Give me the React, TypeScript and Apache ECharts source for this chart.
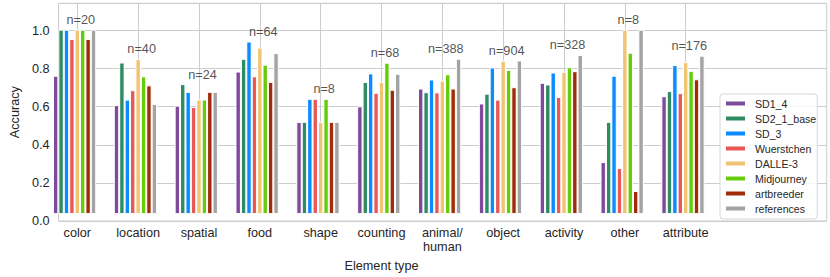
import React, { useEffect, useRef } from "react";
import * as echarts from "echarts";

const categories = ["color", "location", "spatial", "food", "shape", "counting", "animal/\nhuman", "object", "activity", "other", "attribute"];
const counts = [20, 40, 24, 64, 8, 68, 388, 904, 328, 8, 176];

const modelNames = ["SD1_4", "SD2_1_base", "SD_3", "Wuerstchen", "DALLE-3", "Midjourney", "artbreeder", "references"];
const modelColors = ["#7D4A9C", "#2E8B62", "#0A8BFF", "#E85858", "#F0C472", "#66CC0A", "#A02C0A", "#A3A3A3"];

const sd14 = [0.75, 0.591, 0.588, 0.773, 0.5, 0.584, 0.681, 0.6, 0.712, 0.282, 0.639];
const sd21base = [1.0, 0.822, 0.705, 0.842, 0.5, 0.717, 0.661, 0.653, 0.703, 0.5, 0.667];
const sd3 = [1.0, 0.621, 0.663, 0.936, 0.625, 0.763, 0.73, 0.795, 0.768, 0.75, 0.808];
const wuerstchen = [0.95, 0.672, 0.581, 0.747, 0.625, 0.658, 0.66, 0.621, 0.635, 0.25, 0.656];
const dalle3 = [1.0, 0.841, 0.621, 0.903, 0.5, 0.717, 0.724, 0.831, 0.772, 1.0, 0.824];
const midjourney = [1.0, 0.747, 0.621, 0.81, 0.625, 0.821, 0.758, 0.782, 0.796, 0.875, 0.777];
const artbreeder = [0.95, 0.698, 0.663, 0.717, 0.5, 0.674, 0.681, 0.688, 0.775, 0.125, 0.731];
const references = [1.0, 0.597, 0.663, 0.873, 0.5, 0.761, 0.842, 0.833, 0.863, 1.0, 0.859];

const seriesValues = [sd14, sd21base, sd3, wuerstchen, dalle3, midjourney, artbreeder, references];

const yTickValues = [0, 0.2, 0.4, 0.6, 0.8, 1.0];
const yMin = 0;
const yMax = 1.143;

const FONT = "Liberation Sans, Arial, Helvetica, sans-serif";
const TEXT = "#262626";
const GRID = "#cccccc";

export default function App() {
  const ref = useRef<HTMLDivElement>(null);

  useEffect(() => {
    document.body.style.margin = "0";
    if (!ref.current) return;
    const chart = echarts.init(ref.current, null, { renderer: "svg" });

    const barSeries: any[] = modelNames.map((name, i) => ({
      name,
      type: "bar",
      xAxisIndex: 0,
      yAxisIndex: 0,
      data: seriesValues[i],
      barGap: "0%",
      barCategoryGap: "20%",
      clip: false,
      itemStyle: { color: modelColors[i], borderColor: "#ffffff", borderWidth: 1 },
      z: 3,
    }));
    // ninth (empty) hue slot, as in the original grouped layout
    barSeries.push({
      name: "_slot",
      type: "bar",
      xAxisIndex: 0,
      yAxisIndex: 0,
      data: categories.map(() => "-"),
      barGap: "0%",
      barCategoryGap: "20%",
      clip: false,
      silent: true,
      itemStyle: { color: "transparent" },
    });

    const maxPerCategory = categories.map((_, c) => Math.max(...seriesValues.map((s) => s[c])));

    const option: any = {
      animation: false,
      textStyle: { fontFamily: FONT },
      legend: {
        data: modelNames,
        orient: "vertical",
        left: 720,
        top: 94,
        itemWidth: 21,
        itemHeight: 6,
        itemGap: 4,
        icon: "rect",
        padding: [4, 1, 5, 4],
        backgroundColor: "rgba(255,255,255,0.85)",
        borderColor: "#d6d6d6",
        borderWidth: 1,
        borderRadius: 3,
        selectedMode: false,
        textStyle: { fontFamily: FONT, fontSize: 10.6, color: TEXT, padding: [0, 0, 0, 4] },
      },
      grid: [
        { left: 77.3, right: 144.3, top: 3.3, bottom: 56, containLabel: false },
        { left: 47, right: 3.3, top: 3.3, bottom: 56, show: true, borderColor: GRID, borderWidth: 1, backgroundColor: "transparent", containLabel: false },
      ],
      xAxis: [
        {
          type: "category",
          gridIndex: 0,
          data: categories,
          boundaryGap: false,
          axisLine: { show: false },
          axisTick: { show: false },
          splitLine: { show: true, lineStyle: { color: GRID, width: 1 } },
          axisLabel: { fontFamily: FONT, fontSize: 12.7, color: TEXT, margin: 12, lineHeight: 14, interval: 0 },
          name: "Element type",
          nameLocation: "middle",
          nameGap: 38,
          nameTextStyle: { fontFamily: FONT, fontSize: 12.7, color: TEXT },
        },
        { type: "value", gridIndex: 1, show: false, min: 0, max: 1 },
      ],
      yAxis: [
        { type: "value", gridIndex: 0, min: yMin, max: yMax, show: false, splitLine: { show: false } },
        {
          type: "value",
          gridIndex: 1,
          min: yMin,
          max: yMax,
          interval: yTickValues[1] - yTickValues[0],
          axisLine: { show: false },
          axisTick: { show: false },
          splitLine: { show: true, lineStyle: { color: GRID, width: 1 } },
          axisLabel: {
            fontFamily: FONT,
            fontSize: 12.7,
            color: TEXT,
            margin: 9,
            showMaxLabel: false,
            formatter: (v: number) => (v > 1.05 ? "" : v.toFixed(1)),
          },
          name: "Accuracy",
          nameLocation: "middle",
          nameGap: 34,
          nameRotate: 90,
          nameTextStyle: { fontFamily: FONT, fontSize: 12.7, color: TEXT },
        },
      ],
      series: [
        ...barSeries,
        {
          type: "scatter",
          xAxisIndex: 0,
          yAxisIndex: 0,
          symbolSize: 0,
          silent: true,
          clip: false,
          data: maxPerCategory.map((m, c) => [c, m]),
          label: {
            show: true,
            position: "top",
            distance: 3,
            offset: [3.5, 0],
            fontFamily: FONT,
            fontSize: 12.7,
            color: TEXT,
            formatter: (p: any) => "n=" + counts[p.dataIndex],
          },
          z: 4,
        },
      ],
    };

    chart.setOption(option);
    return () => chart.dispose();
  }, []);

  return <div ref={ref} style={{ width: 830, height: 277 }} />;
}
